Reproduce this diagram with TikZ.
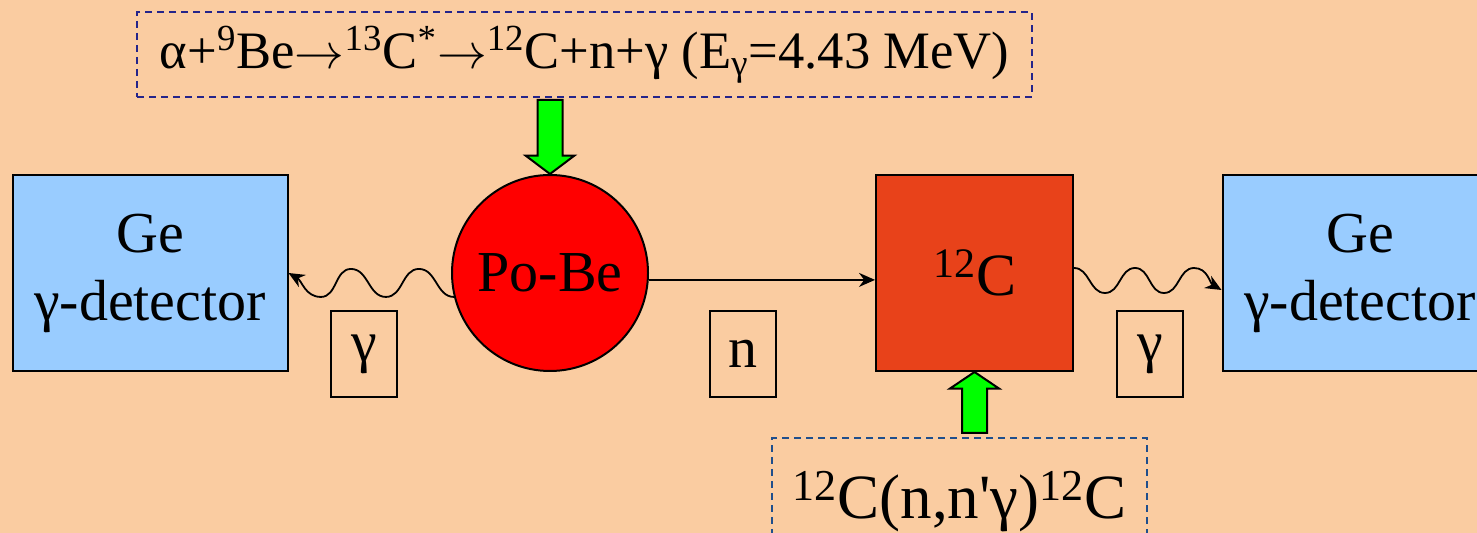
\documentclass[tikz,border=0pt]{standalone}
\usepackage{fontspec}
\setmainfont{Liberation Serif}
\usepackage{tikz}
\usetikzlibrary{positioning,arrows.meta,shapes.geometric,shapes.arrows,calc}
\definecolor{peach}{HTML}{FACCA1}
\definecolor{skyblue}{HTML}{99CCFF}
\definecolor{carbon}{HTML}{E8421A}
\definecolor{source}{HTML}{FF0000}
\definecolor{navydash}{HTML}{24248A}
\definecolor{tealdash}{HTML}{1F4E8C}
\definecolor{lime}{HTML}{00FF00}
\tikzset{
  detector/.style={rectangle, draw=black, line width=1pt, fill=skyblue,
                   minimum width=137.5pt, minimum height=98pt, align=center,
                   font=\fontsize{29}{34}\selectfont, inner sep=0pt},
  target/.style={rectangle, draw=black, line width=1pt, fill=carbon,
                 minimum width=98.5pt, minimum height=98pt,
                 font=\fontsize{30}{36}\selectfont, inner sep=0pt},
  srcball/.style={circle, draw=black, line width=1pt, fill=source,
                  minimum size=98pt, inner sep=0pt, font=\fontsize{29}{34}\selectfont},
  particle/.style={rectangle, draw=black, line width=1pt, minimum width=33pt,
                   minimum height=43pt, inner sep=0pt, font=\fontsize{29}{34}\selectfont},
  reaction/.style={rectangle, dashed, dash pattern=on 3.5pt off 2.5pt, line width=0.8pt},
  feed/.style={single arrow, draw=black, line width=1pt, fill=lime, inner sep=5.75pt,
               single arrow head extend=6pt, single arrow tip angle=106,
               anchor=tip, outer sep=0pt},
  photon/.style={-{Stealth[length=8pt,width=7pt]}, line width=0.9pt, draw=black},
  flow/.style={-{Stealth[length=8pt,width=7pt]}, line width=0.9pt, draw=black}
}
\newcommand{\reacto}{\ensuremath{\rightarrow}}
\begin{document}
\begin{tikzpicture}[x=0.5pt,y=-0.5pt]
  \useasboundingbox (0,0) rectangle (1477,533);
  \clip (0,0) rectangle (1477,533);
  \fill[peach] (0,0) rectangle (1477,533);

  % top reaction and source
  \node[reaction, draw=navydash, minimum width=447.5pt, minimum height=42.5pt,
        font=\fontsize{26.3}{30}\selectfont, inner sep=0pt] (decay) at (584.5,54.5)
    {α+\textsuperscript{9}Be\reacto\textsuperscript{13}C\textsuperscript{*}\reacto\textsuperscript{12}C+n+γ (E\textsubscript{γ}=4.43 MeV)};
  \node[srcball] (pobe) at (550,273) {Po-Be};
  \node[feed, rotate=-90, minimum height=37pt] (feedtop) at (pobe.north) {};

  % detectors and target
  \node[detector] (geL) at (150,273) {Ge\\γ-detector};
  \node[target] (c12) at (974.5,273) {\textsuperscript{12}C};
  \node[detector] (geR) at (1360,273) {Ge\\γ-detector};

  \node[particle] (gamL) at (364,354) {γ};
  \node[particle] (neut) at (743,354) {n};
  \node[particle] (gamR) at (1150,354) {γ};

  % bottom reaction
  \node[reaction, draw=tealdash, anchor=north, minimum width=187.5pt, inner ysep=3pt,
        text height=37.5pt, text depth=40pt, font=\fontsize{31.5}{36}\selectfont] (scatter) at (959.5,437)
    {\textsuperscript{12}C(n,n\textquotesingle γ)\textsuperscript{12}C};
  \node[feed, rotate=90, minimum height=30.5pt, single arrow tip angle=112] (feedbot) at (c12.south) {};

  % connectors
  \draw[flow] (pobe.-4) -- (pobe.-4 -| c12.west);
  \draw[photon] (pobe.194) to[out=180,in=0] ++(-35,-28) to[out=180,in=0] ++(-33,28)
    to[out=180,in=0] ++(-35,-28) to[out=180,in=0] ++(-30,28)
    to[out=180,in=-30] (geL.east);
  \draw[photon] ($(c12.east)+(0,-5)$) to[out=0,in=180] ++(31,25) to[out=0,in=180] ++(30,-25)
    to[out=0,in=180] ++(29,25) to[out=0,in=180] ++(30,-25)
    to[out=0,in=150] ($(geR.west)+(0,17)$);
\end{tikzpicture}
\end{document}
